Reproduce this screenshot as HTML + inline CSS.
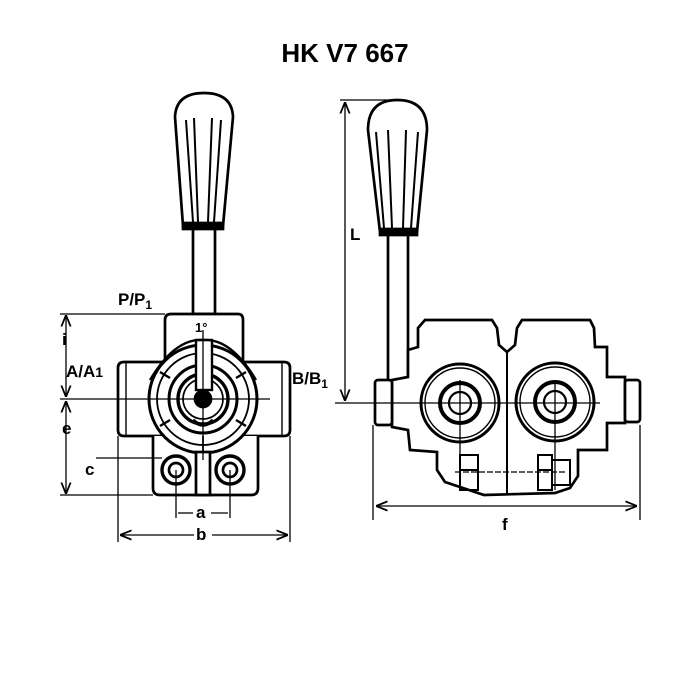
<!DOCTYPE html>
<html><head><meta charset="utf-8"><style>
html,body{margin:0;padding:0;background:#fff;}
svg{display:block;}
text{font-family:"Liberation Sans",sans-serif;font-weight:bold;fill:#000;}
</style></head><body>
<svg width="700" height="700" viewBox="0 0 700 700" xmlns="http://www.w3.org/2000/svg">
<defs>
<marker id="ar" viewBox="0 0 10 10" refX="10" refY="5" markerWidth="9" markerHeight="9" orient="auto-start-reverse"><path d="M0,1 L10,5 L0,9" fill="none" stroke="#000" stroke-width="1.5"/></marker>
</defs>
<text x="345" y="62" font-size="26" text-anchor="middle">HK V7 667</text>

<!-- LEFT VIEW -->
<g fill="none" stroke="#000" stroke-width="2.7">
<path d="M183,226 L175,117 Q176,93 204,93 Q232,93 233,117 L223,226 Z" fill="#fff"/>
<rect x="183" y="223" width="40" height="6" fill="#000"/>
<path d="M186,120 L193,222 M194,118 L198,222 M212,118 L208,222 M221,120 L214,222" stroke-width="2"/>
<rect x="193" y="229" width="22" height="85" fill="#fff"/>
<path d="M165,362 L165,320 Q165,314 171,314 L238,314 Q243,314 243,320 L243,362" fill="#fff"/>
<path d="M118,430 L118,368 Q118,362 124,362 L284,362 Q290,362 290,368 L290,430 Q290,436 284,436 L124,436 Q118,436 118,430 Z" fill="#fff"/>
<line x1="126" y1="362" x2="126" y2="436" stroke-width="1.4"/>
<line x1="282" y1="362" x2="282" y2="436" stroke-width="1.4"/>
<path d="M153,436 L153,488 Q153,495 160,495 L251,495 Q258,495 258,488 L258,436" fill="#fff"/>
<circle cx="203" cy="399" r="54" fill="#fff" stroke-width="3"/>
<circle cx="203" cy="399" r="46" stroke-width="1.8"/>
<circle cx="203" cy="399" r="34" stroke-width="3"/>
<path d="M160,372 L170,378 M246,372 L236,378 M160,426 L170,420 M246,426 L236,420" stroke-width="2.4"/>
<circle cx="203" cy="399" r="25" stroke-width="3.4"/>
<circle cx="203" cy="399" r="20" stroke-width="1.7"/>
<circle cx="203" cy="399" r="8" fill="#000"/>
<path d="M193,420 Q203,430 213,420" stroke-width="3.4"/>
<rect x="196" y="340" width="16" height="50" fill="#fff" stroke-width="2.4"/>
<path d="M150,380 Q175,338 203,340 Q231,338 256,380" stroke-width="2.4"/>
<circle cx="176" cy="470" r="14" fill="#fff" stroke-width="3.4"/>
<circle cx="176" cy="470" r="7"/>
<circle cx="230" cy="470" r="14" fill="#fff" stroke-width="3.4"/>
<circle cx="230" cy="470" r="7"/>
<rect x="196" y="452" width="14" height="43" fill="#fff"/>
<line x1="203" y1="436" x2="203" y2="452" stroke-width="1.7"/>
</g>
<g fill="none" stroke="#000" stroke-width="1.3">
<line x1="60" y1="399" x2="270" y2="399"/>
<line x1="203" y1="330" x2="203" y2="460"/>
<line x1="60" y1="314" x2="165" y2="314"/>
<line x1="60" y1="495" x2="153" y2="495"/>
<line x1="66" y1="315" x2="66" y2="397" marker-start="url(#ar)" marker-end="url(#ar)"/>
<line x1="66" y1="401" x2="66" y2="494" marker-start="url(#ar)" marker-end="url(#ar)"/>
<line x1="96" y1="458" x2="162" y2="458"/>
<line x1="176" y1="470" x2="176" y2="518"/>
<line x1="230" y1="470" x2="230" y2="518"/>
<line x1="178" y1="513" x2="193" y2="513"/><line x1="211" y1="513" x2="228" y2="513"/>
<line x1="118" y1="436" x2="118" y2="542"/>
<line x1="290" y1="436" x2="290" y2="542"/>
<line x1="120" y1="535" x2="194" y2="535" marker-start="url(#ar)"/>
<line x1="212" y1="535" x2="288" y2="535" marker-end="url(#ar)"/>
</g>
<text x="118" y="305" font-size="17">P/P<tspan font-size="12" dy="4">1</tspan></text>
<text x="62" y="345" font-size="17">i</text>
<text x="66" y="377" font-size="17">A/A<tspan font-size="14">1</tspan></text>
<text x="292" y="384" font-size="17">B/B<tspan font-size="12" dy="4">1</tspan></text>
<text x="62" y="434" font-size="17">e</text>
<text x="85" y="475" font-size="17">c</text>
<text x="195" y="332" font-size="13">1°</text>
<text x="196" y="518" font-size="17">a</text>
<text x="196" y="540" font-size="17">b</text>

<!-- RIGHT VIEW -->
<g fill="none" stroke="#000" stroke-width="2.7">
<path d="M380,232 L368,130 Q368,100 397,100 Q427,100 427,130 L417,232 Z" fill="#fff"/>
<rect x="380" y="229" width="37" height="6" fill="#000"/>
<path d="M376,132 L384,228 M388,130 L392,228 M406,130 L403,228 M418,132 L411,228" stroke-width="2"/>
<rect x="388" y="235" width="20" height="148" fill="#fff"/>
<path d="M425,320 L492,320 L497,328 L499,345 L507,352 L515,345 L517,328 L522,320 L590,320 L594,328 L595,347 L607,347 L607,377 L625,377 L625,423 L607,423 L607,450 L578,450 L578,476 L570,488 L555,493 L484,495 L445,482 L437,470 L437,452 L410,450 L408,430 L392,427 L392,380 L408,377 L408,350 L418,347 L418,328 Z" fill="#fff"/>
<rect x="375" y="380" width="17" height="45" rx="3" fill="#fff"/>
<rect x="625" y="380" width="15" height="42" rx="3" fill="#fff"/>
<line x1="507" y1="352" x2="507" y2="495" stroke-width="2"/>
<circle cx="460" cy="403" r="39" fill="#fff" stroke-width="3"/>
<circle cx="460" cy="403" r="35" stroke-width="1.4"/>
<circle cx="460" cy="403" r="20" stroke-width="4"/>
<circle cx="460" cy="403" r="11" stroke-width="2.2"/>
<circle cx="555" cy="402" r="39" fill="#fff" stroke-width="3"/>
<circle cx="555" cy="402" r="35" stroke-width="1.4"/>
<circle cx="555" cy="402" r="20" stroke-width="4"/>
<circle cx="555" cy="402" r="11" stroke-width="2.2"/>
<path d="M460,455 L460,490 L478,490 L478,455 Z M460,470 L478,470" stroke-width="2"/>
<path d="M538,455 L538,490 L552,490 L552,455 Z M552,460 L570,460 L570,485 L552,485 M538,470 L552,470" stroke-width="2"/>
</g>
<g fill="none" stroke="#000" stroke-width="1.3">
<line x1="335" y1="403" x2="600" y2="403"/>
<line x1="460" y1="380" x2="460" y2="490"/>
<line x1="555" y1="380" x2="555" y2="490"/>
<line x1="455" y1="472" x2="565" y2="472" stroke-dasharray="6,2"/>
<line x1="340" y1="100" x2="395" y2="100"/>
<line x1="345" y1="102" x2="345" y2="401" marker-start="url(#ar)" marker-end="url(#ar)"/>
<line x1="373" y1="425" x2="373" y2="520"/>
<line x1="640" y1="425" x2="640" y2="520"/>
<line x1="376" y1="506" x2="637" y2="506" marker-start="url(#ar)" marker-end="url(#ar)"/>
</g>
<text x="350" y="240" font-size="17">L</text>
<text x="502" y="530" font-size="17">f</text>
</svg>
</body></html>
